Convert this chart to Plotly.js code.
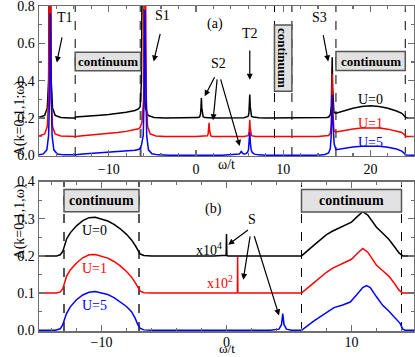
<!DOCTYPE html>
<html>
<head>
<meta charset="utf-8">
<script src="https://cdn.plot.ly/plotly-3.0.1.min.js"></script>
<style>
  html, body { margin: 0; padding: 0; background: #fff; }
  #plot { width: 415px; height: 357px; }
</style>
</head>
<body>
<div id="plot"></div>
<script>
// Spectral function A(k=0,1,1;w) for U=0,1,5 (curves offset by 0.1)
// (a) wide window, (b) zoom on the continua and the S state

// ---- panel (a) ----
const topX_U0 = [-18, -17.35, -17.05, -16.9, -16.8, -16.75, -16.7, -16.6, -16.45, -16.15,
                 -15.5, -14.5, -13.85, -13.8, -13, -12, -11, -10, -9, -8,
                 -7, -6.6, -6.4, -6.25, -6.15, -6.1, -6.05, -5.95, -5.8, -5.5,
                 -4.8, -3.5, -1, 0.2, 0.42, 0.52, 0.57, 0.62, 0.67, 0.72,
                 0.82, 1.0, 2, 5.5, 5.77, 5.97, 6.07, 6.12, 6.17, 6.22,
                 6.27, 6.37, 6.57, 7.2, 8, 14, 15.0, 15.22, 15.42, 15.52,
                 15.57, 15.62, 15.67, 15.72, 15.82, 16.05, 16.5, 17, 18, 19,
                 20, 21, 22, 23, 23.6, 23.9, 24.1, 24.5, 25];
const topY_U0 = [0.203, 0.214, 0.254, 0.4, 1.2, 2.2, 1.2, 0.4, 0.254, 0.214,
                 0.203, 0.2, 0.2, 0.205, 0.207, 0.211, 0.215, 0.219, 0.224, 0.231,
                 0.24, 0.248, 0.26, 0.4, 1.2, 2.2, 1.2, 0.4, 0.254, 0.214,
                 0.203, 0.2, 0.2, 0.202, 0.206, 0.221, 0.253, 0.307, 0.253, 0.221,
                 0.206, 0.202, 0.2, 0.201, 0.205, 0.208, 0.225, 0.262, 0.325, 0.262,
                 0.225, 0.208, 0.205, 0.201, 0.2, 0.2, 0.203, 0.205, 0.219, 0.265,
                 0.363, 0.526, 0.363, 0.265, 0.23, 0.226, 0.232, 0.24, 0.252, 0.261,
                 0.266, 0.262, 0.252, 0.237, 0.225, 0.21, 0.201, 0.2, 0.2];

const topX_U1 = [-18, -17.35, -17.05, -16.9, -16.8, -16.75, -16.7, -16.6, -16.45, -16.15,
                 -15.5, -14.5, -13.85, -13.8, -13, -12, -11, -10, -9, -8,
                 -7, -6.6, -6.4, -6.2, -6.0, -5.9, -5.85, -5.8, -5.7, -5.55,
                 -5.25, -4.6, -3.5, 0, 1.1, 1.3, 1.4, 1.45, 1.5, 1.55,
                 1.6, 1.7, 1.9, 3, 5.5, 5.97, 6.07, 6.12, 6.17, 6.22,
                 6.27, 6.37, 6.8, 8, 14, 15.0, 15.22, 15.42, 15.52, 15.57,
                 15.62, 15.67, 15.72, 15.82, 16.05, 17, 18, 19, 20, 21,
                 22, 23, 23.6, 23.9, 24.1, 25];
const topY_U1 = [0.103, 0.114, 0.154, 0.3, 1.1, 2.1, 1.1, 0.3, 0.154, 0.114,
                 0.103, 0.1, 0.1, 0.101, 0.104, 0.108, 0.112, 0.117, 0.122, 0.128,
                 0.136, 0.142, 0.15, 0.175, 0.3, 1.1, 2.1, 1.1, 0.3, 0.154,
                 0.114, 0.103, 0.1, 0.1, 0.101, 0.104, 0.115, 0.137, 0.174, 0.137,
                 0.115, 0.104, 0.101, 0.1, 0.101, 0.105, 0.118, 0.145, 0.19, 0.145,
                 0.118, 0.105, 0.101, 0.1, 0.1, 0.103, 0.106, 0.12, 0.167, 0.27,
                 0.437, 0.27, 0.167, 0.13, 0.125, 0.134, 0.141, 0.146, 0.148, 0.146,
                 0.14, 0.131, 0.122, 0.11, 0.101, 0.1];

const topX_U5 = [-18, -17.5, -17.1, -16.9, -16.8, -16.75, -16.7, -16.65, -16.6, -16.5,
                 -16.3, -15.9, -15.2, -14, -13.85, -13.8, -13, -12, -11, -10,
                 -9, -8, -7, -6.6, -6.4, -6.25, -6.05, -5.95, -5.9, -5.85,
                 -5.8, -5.75, -5.65, -5.45, -5.05, -4.35, -3, 3, 4.5, 4.95,
                 5.1, 5.2, 5.3, 5.45, 5.7, 5.9, 6.02, 6.1, 6.17, 6.24,
                 6.32, 6.45, 6.7, 7.2, 8, 14, 14.8, 15.2, 15.4, 15.5,
                 15.57, 15.62, 15.67, 15.74, 15.85, 16.05, 17, 18, 19, 20,
                 21, 22, 23, 23.6, 23.9, 24.1, 25];
const topY_U5 = [0.002, 0.007, 0.029, 0.105, 0.296, 0.547, 0.76, 0.547, 0.296, 0.105,
                 0.029, 0.007, 0.002, 0, 0, 0.003, 0.006, 0.009, 0.012, 0.015,
                 0.018, 0.022, 0.027, 0.031, 0.036, 0.055, 0.105, 0.296, 0.547, 0.78,
                 0.547, 0.296, 0.105, 0.029, 0.008, 0.002, 0, 0, 0.002, 0.006,
                 0.013, 0.023, 0.013, 0.007, 0.008, 0.015, 0.03, 0.065, 0.124, 0.065,
                 0.03, 0.015, 0.006, 0.002, 0, 0, 0.004, 0.012, 0.035, 0.1,
                 0.2, 0.325, 0.2, 0.1, 0.06, 0.03, 0.038, 0.044, 0.048, 0.05,
                 0.048, 0.043, 0.033, 0.022, 0.01, 0.001, 0];

// ---- panel (b) ----
const botX_U0 = [-15, -13.6, -13.3, -13.1, -12.95, -12.8, -12.5, -12, -11.5, -11,
                 -10.5, -10, -9.5, -9, -8.5, -8, -7.6, -7.3, -7.1, -6.9,
                 -6.6, -6, -1, -0.1, -0.03, 0, 0.03, 0.1, 5, 6,
                 7, 8, 8.5, 9, 9.5, 10, 10.5, 10.9, 11.3, 12,
                 12.5, 13, 13.5, 13.8, 14.1, 15];
const botY_U0 = [0.2, 0.2, 0.203, 0.212, 0.228, 0.245, 0.262, 0.281, 0.295, 0.303,
                 0.304, 0.3, 0.294, 0.285, 0.273, 0.258, 0.243, 0.228, 0.215, 0.205,
                 0.201, 0.2, 0.2, 0.2, 0.202, 0.259, 0.202, 0.2, 0.2, 0.2,
                 0.229, 0.257, 0.267, 0.275, 0.282, 0.291, 0.307, 0.319, 0.31, 0.277,
                 0.261, 0.244, 0.222, 0.208, 0.2, 0.2];

const botX_U1 = [-15, -13.6, -13.3, -13.1, -12.95, -12.8, -12.5, -12, -11.5, -11,
                 -10.5, -10, -9.5, -9, -8.5, -8, -7.6, -7.3, -7.1, -6.9,
                 -6.6, -6, 0.8, 0.87, 0.89, 0.91, 1.0, 6, 7, 8,
                 8.5, 9, 9.5, 10, 10.5, 10.9, 11.3, 12, 12.5, 13,
                 13.5, 13.8, 14.1, 15];
const botY_U1 = [0.1, 0.1, 0.103, 0.112, 0.128, 0.145, 0.162, 0.181, 0.195, 0.203,
                 0.204, 0.2, 0.194, 0.185, 0.173, 0.158, 0.143, 0.128, 0.115, 0.105,
                 0.101, 0.1, 0.1, 0.101, 0.197, 0.101, 0.1, 0.1, 0.128, 0.156,
                 0.167, 0.175, 0.182, 0.191, 0.208, 0.22, 0.21, 0.175, 0.16, 0.145,
                 0.123, 0.108, 0.1, 0.1];

const botX_U5 = [-15, -13.7, -13.3, -13.1, -12.95, -12.8, -12.5, -12, -11.5, -11,
                 -10.5, -10, -9.5, -9, -8.5, -8, -7.6, -7.3, -7.1, -6.9,
                 -6.6, -6, 3.5, 4.2, 4.4, 4.5, 4.6, 4.8, 5.2, 6,
                 7, 8, 8.6, 9.3, 9.9, 10.4, 10.9, 11.2, 11.5, 12,
                 12.5, 13, 13.4, 13.9, 14.1, 14.3, 15];
const botY_U5 = [0, 0, 0.004, 0.015, 0.03, 0.045, 0.063, 0.082, 0.095, 0.102,
                 0.104, 0.101, 0.096, 0.088, 0.077, 0.064, 0.05, 0.032, 0.015, 0.005,
                 0.001, 0, 0, 0.003, 0.015, 0.045, 0.015, 0.003, 0, 0,
                 0.025, 0.049, 0.061, 0.068, 0.076, 0.095, 0.115, 0.12, 0.115, 0.09,
                 0.067, 0.051, 0.037, 0.018, 0.003, 0, 0];

const FONT = 'Liberation Serif, Times New Roman, serif';
const FRAME = '#6e6e6e';

const line = function(xs, ys, color, xa, ya) {
    return {x: xs, y: ys, xaxis: xa, yaxis: ya,
            type: 'scatter', mode: 'lines', hoverinfo: 'skip',
            line: {color: color, width: 1.5}};
};

const data = [
    line(topX_U0, topY_U0, '#000000', 'x', 'y'),
    line(topX_U1, topY_U1, '#ff0000', 'x', 'y'),
    line(topX_U5, topY_U5, '#0000ff', 'x', 'y'),
    line(botX_U0, botY_U0, '#000000', 'x2', 'y2'),
    line(botX_U1, botY_U1, '#ff0000', 'x2', 'y2'),
    line(botX_U5, botY_U5, '#0000ff', 'x2', 'y2')
];

// common axis look: grey frame, ticks inside on all four sides
const axisStyle = function(extra) {
    const base = {showline: true, linecolor: FRAME, linewidth: 1.5,
                  mirror: 'ticks', ticks: 'inside', ticklen: 6,
                  tickcolor: FRAME, tickwidth: 1.2,
                  showgrid: false, zeroline: false,
                  ticklabeloverflow: 'allow',
                  tickfont: {family: FONT, size: 14, color: '#000'}};
    return Object.assign(base, extra);
};

// dashed lines bounding the continua
const vline = function(x, xref, yref, heavy) {
    return {type: 'line', xref: xref, yref: yref + ' domain',
            x0: x, x1: x, y0: 0, y1: 1, layer: 'below',
            line: heavy ? {color: '#555', width: 2, dash: 'dash'}
                        : {color: '#000', width: 1, dash: 'dash'}};
};

const box = function(x0, x1, y0, y1, xref, yref) {
    return {type: 'rect', xref: xref, yref: yref,
            x0: x0, x1: x1, y0: y0, y1: y1,
            fillcolor: '#e2e2e2', line: {color: '#555', width: 1.5}};
};

const shapes = [
    vline(-13.85, 'x', 'y', false), vline(-6.35, 'x', 'y', true),
    vline(9, 'x', 'y', false), vline(11, 'x', 'y', false),
    vline(16.05, 'x', 'y', false), vline(24, 'x', 'y', false),
    vline(-13, 'x2', 'y2', true), vline(-7, 'x2', 'y2', true),
    vline(6, 'x2', 'y2', false), vline(14, 'x2', 'y2', false),
    box(-13.85, -6.35, 0.453, 0.553, 'x', 'y'),
    box(9, 11, 0.343, 0.699, 'x', 'y'),
    box(16.05, 24, 0.455, 0.556, 'x', 'y'),
    box(-13, -7, 0.319, 0.379, 'x2', 'y2'),
    box(6, 14, 0.318, 0.379, 'x2', 'y2')
];

const label = function(text, x, y, xref, yref, color, opts) {
    const a = {text: text, x: x, y: y, xref: xref, yref: yref,
               showarrow: false,
               font: {family: FONT, size: 14, color: color || '#000'}};
    return Object.assign(a, opts || {});
};

// arrow from (ax, ay) to (x, y), all in data units
const arrow = function(ax, ay, x, y, xref, yref) {
    return {text: ' ', x: x, y: y, ax: ax, ay: ay,
            xref: xref, yref: yref, axref: xref, ayref: yref,
            showarrow: true, arrowhead: 2, arrowsize: 1, arrowwidth: 1.2,
            arrowcolor: '#000', standoff: 0, startstandoff: 0};
};

const bold = {font: {family: FONT, size: 13, color: '#000', weight: 'bold'}};
const boldB = {font: {family: FONT, size: 14, color: '#000', weight: 'bold'}};

const annotations = [
    // panel (a)
    label('T1', -15.07, 0.74, 'x', 'y'),
    label('S1', -3.79, 0.747, 'x', 'y'),
    label('(a)', 2.15, 0.704, 'x', 'y'),
    label('S2', 2.6, 0.494, 'x', 'y'),
    label('T2', 6.17, 0.654, 'x', 'y'),
    label('S3', 14.2, 0.74, 'x', 'y'),
    label('U=0', 20, 0.299, 'x', 'y', '#000'),
    label('U=1', 20, 0.171, 'x', 'y', '#ff0000'),
    label('U=5', 20, 0.071, 'x', 'y', '#0000ff'),
    label('continuum', -10.1, 0.503, 'x', 'y', '#000', bold),
    label('continuum', 10, 0.521, 'x', 'y', '#000', Object.assign({textangle: 90}, bold)),
    label('continuum', 20.03, 0.505, 'x', 'y', '#000', bold),
    arrow(-15.15, 0.681, -15.96, 0.498, 'x', 'y'),
    arrow(-3.86, 0.699, -4.85, 0.503, 'x', 'y'),
    arrow(2.53, 0.455, 1.0, 0.316, 'x', 'y'),
    arrow(2.53, 0.455, 1.96, 0.188, 'x', 'y'),
    arrow(2.53, 0.455, 5.02, 0.05, 'x', 'y'),
    arrow(6.17, 0.61, 6.17, 0.405, 'x', 'y'),
    arrow(14.4, 0.693, 15.16, 0.503, 'x', 'y'),

    // panel (b)
    label('(b)', -1.07, 0.327, 'x2', 'y2'),
    label('S', 2.0, 0.297, 'x2', 'y2'),
    label('x10<sup>4</sup>', -0.2, 0.219, 'x2', 'y2', '#000', {xanchor: 'right'}),
    label('x10<sup>2</sup>', 0.7, 0.13, 'x2', 'y2', '#ff0000', {xanchor: 'right'}),
    label('U=0', -10.55, 0.268, 'x2', 'y2', '#000'),
    label('U=1', -10.55, 0.166, 'x2', 'y2', '#ff0000'),
    label('U=5', -10.55, 0.067, 'x2', 'y2', '#0000ff'),
    label('continuum', -10, 0.349, 'x2', 'y2', '#000', boldB),
    label('continuum', 10, 0.349, 'x2', 'y2', '#000', boldB),
    arrow(2.0, 0.277, 0.14, 0.23, 'x2', 'y2'),
    arrow(2.0, 0.277, 1.34, 0.136, 'x2', 'y2'),
    arrow(2.0, 0.277, 4.2, 0.04, 'x2', 'y2'),

    // axis titles
    label('ω/t', 0.5, 0.511, 'paper', 'paper', '#000', {yanchor: 'middle'}),
    label('ω/t', 0.5, -0.08, 'paper', 'paper', '#000',
          {yanchor: 'bottom', borderpad: 0,
           font: {family: FONT, size: 13, color: '#000'}}),
    label('A(k=0,1,1;ω)', -0.077, 0.778, 'paper', 'paper', '#000', {textangle: -90}),
    label('A(k=0,1,1,ω)', -0.077, 0.213, 'paper', 'paper', '#000', {textangle: -90})
];

const layout = {
    width: 415, height: 357,
    margin: {l: 39, r: 1, t: 6, b: 26},
    paper_bgcolor: '#fff', plot_bgcolor: '#fff',
    showlegend: false,
    font: {family: FONT, size: 14, color: '#000'},
    xaxis: axisStyle({domain: [0, 1], anchor: 'y', range: [-18, 25],
                      tick0: 0, dtick: 10,
                      minor: {dtick: 2, ticklen: 3, ticks: 'inside', tickcolor: FRAME}}),
    yaxis: axisStyle({domain: [0.5385, 1], anchor: 'x', range: [-0.004, 0.8005],
                      tick0: 0, dtick: 0.2, tickformat: '.1f',
                      minor: {dtick: 0.1, ticklen: 3, ticks: 'inside', tickcolor: FRAME}}),
    xaxis2: axisStyle({domain: [0, 1], anchor: 'y2', range: [-15, 15],
                       tick0: 0, dtick: 10, ticklabelstandoff: -2,
                       minor: {dtick: 2, ticklen: 3, ticks: 'inside', tickcolor: FRAME}}),
    yaxis2: axisStyle({domain: [0, 0.46], anchor: 'x2', range: [-0.002, 0.4002],
                       tick0: 0, dtick: 0.1, tickformat: '.1f',
                       minor: {dtick: 0.05, ticklen: 3, ticks: 'inside', tickcolor: FRAME}}),
    shapes: shapes,
    annotations: annotations
};

Plotly.newPlot('plot', data, layout, {staticPlot: true, displayModeBar: false});
</script>
</body>
</html>
